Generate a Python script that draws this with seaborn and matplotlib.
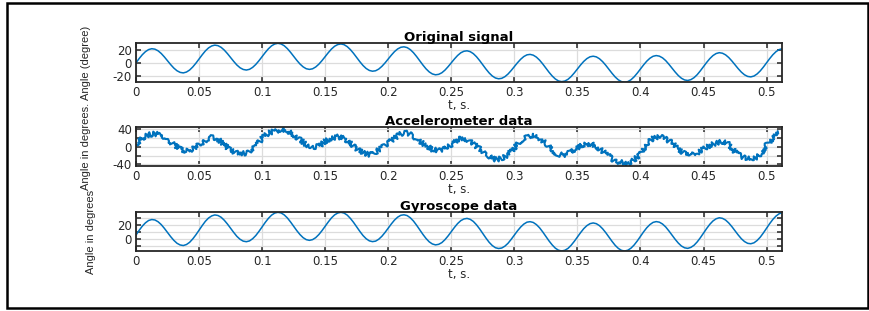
import numpy as np
import matplotlib
matplotlib.use("Agg")
import matplotlib.pyplot as plt
from matplotlib.patches import Rectangle
import seaborn as sns

# sample interval of the plotted signals (s)
dt_fine = 0.0025
dt_acc = 0.005

original = [
    0, 6.5, 12.4, 17.1, 20.3, 21.6, 20.9, 18.4, 14.3, 9.0,
    3.1, -2.8, -8.1, -12.2, -14.7, -15.5, -14.2, -11.1, -6.4, -0.6,
    5.9, 12.3, 18.2, 22.8, 25.8, 27.1, 26.3, 23.7, 19.5, 14.1,
    8.1, 2.1, -3.4, -7.6, -10.2, -11.1, -10.0, -7.0, -2.5, 3.2,
    9.5, 15.8, 21.5, 26.0, 28.8, 29.9, 28.9, 26.2, 21.8, 16.2,
    10.0, 3.8, -1.8, -6.2, -9.1, -10.1, -9.2, -6.4, -2.1, 3.4,
    9.5, 15.6, 21.1, 25.4, 28.0, 28.9, 27.8, 24.8, 20.2, 14.5,
    8.1, 1.7, -4.1, -8.7, -11.7, -12.9, -12.2, -9.6, -5.4, -0.1,
    5.9, 11.8, 17.2, 21.3, 23.8, 24.5, 23.3, 20.2, 15.5, 9.6,
    3.1, -3.4, -9.3, -14.0, -17.1, -18.4, -17.7, -15.3, -11.2, -5.9,
    0, 5.9, 11.2, 15.3, 17.7, 18.4, 17.1, 14.0, 9.3, 3.4,
    -3.1, -9.6, -15.5, -20.2, -23.3, -24.5, -23.8, -21.3, -17.2, -11.8,
    -5.9, 0.1, 5.4, 9.6, 12.2, 12.9, 11.7, 8.7, 4.1, -1.7,
    -8.1, -14.5, -20.2, -24.8, -27.8, -28.9, -28.0, -25.4, -21.1, -15.6,
    -9.5, -3.4, 2.1, 6.4, 9.2, 10.1, 9.1, 6.2, 1.8, -3.8,
    -10.0, -16.2, -21.8, -26.2, -28.9, -29.9, -28.8, -26.0, -21.5, -15.8,
    -9.5, -3.2, 2.5, 7.0, 10.0, 11.1, 10.2, 7.6, 3.4, -2.1,
    -8.1, -14.1, -19.5, -23.7, -26.3, -27.1, -25.8, -22.8, -18.2, -12.3,
    -5.9, 0.6, 6.4, 11.1, 14.2, 15.5, 14.7, 12.2, 8.1, 2.8,
    -3.1, -9.0, -14.3, -18.4, -20.9, -21.6, -20.3, -17.1, -12.4, -6.5,
    0, 6.5, 12.4, 17.1, 20.3, 21.6,
]

accel = [
    5, 20, 28, 30, 28, 17, 5, -5, -10, -5,
    5, 15, 23, 18, 5, -8, -14, -15, -12, 1,
    20, 32, 36, 40, 36, 28, 17, 5, 0, 1,
    13, 20, 23, 20, 8, -5, -14, -18, -12, -2,
    9, 20, 30, 32, 24, 13, 3, -6, -8, -5,
    5, 17, 20, 13, 1, -10, -21, -29, -27, -18,
    -2, 13, 23, 28, 20, 8, -8, -18, -18, -12,
    -2, 5, 8, 1, -10, -21, -33, -35, -39, -30,
    -16, 8, 20, 24, 18, 9, -5, -15, -19, -14,
    -5, 3, 9, 12, 6, -12, -22, -26, -27, -18,
    5, 20, 32,
]

gyro = [
    5.5, 12.1, 18.0, 22.7, 26.0, 27.3, 26.7, 24.2, 20.2, 14.9,
    9.1, 3.2, -2.0, -6.1, -8.5, -9.3, -7.9, -4.8, 0.0, 5.8,
    12.4, 18.8, 24.8, 29.4, 32.4, 33.8, 33.0, 30.5, 26.3, 21.0,
    15.0, 9.1, 3.6, -0.5, -3.1, -3.9, -2.8, 0.3, 4.8, 10.6,
    16.9, 23.3, 29.0, 33.5, 36.4, 37.5, 36.6, 33.9, 29.6, 24.0,
    17.9, 11.7, 6.2, 1.8, -1.0, -2.0, -1.0, 1.8, 6.2, 11.7,
    17.9, 24.0, 29.6, 33.9, 36.5, 37.5, 36.4, 33.5, 28.9, 23.3,
    16.9, 10.6, 4.8, 0.3, -2.7, -3.8, -3.1, -0.4, 3.8, 9.2,
    15.2, 21.2, 26.6, 30.7, 33.3, 34.0, 32.9, 29.8, 25.2, 19.3,
    12.9, 6.4, 0.6, -4.1, -7.1, -8.4, -7.6, -5.2, -1.0, 4.3,
    10.3, 16.2, 21.6, 25.7, 28.1, 28.9, 27.6, 24.6, 19.9, 14.1,
    7.6, 1.2, -4.7, -9.3, -12.4, -13.5, -12.8, -10.2, -6.1, -0.6,
    5.3, 11.4, 16.7, 20.9, 23.6, 24.3, 23.2, 20.2, 15.7, 9.9,
    3.6, -2.8, -8.4, -13.0, -15.9, -17.0, -16.0, -13.4, -9.0, -3.5,
    2.7, 8.8, 14.4, 18.7, 21.5, 22.5, 21.5, 18.7, 14.3, 8.8,
    2.6, -3.5, -9.1, -13.4, -16.1, -17.0, -15.9, -13.0, -8.5, -2.8,
    3.6, 10.0, 15.7, 20.2, 23.3, 24.4, 23.6, 21.0, 16.9, 11.4,
    5.5, -0.5, -5.8, -10.0, -12.5, -13.3, -11.9, -8.9, -4.2, 1.7,
    8.2, 14.7, 20.6, 25.3, 28.4, 29.8, 29.0, 26.6, 22.5, 17.3,
    11.4, 5.6, 0.3, -3.7, -6.2, -6.8, -5.5, -2.2, 2.5, 8.5,
    15.0, 21.6, 27.5, 32.2, 35.5, 36.8,
]

titles = ["Original signal", "Accelerometer data", "Gyroscope data"]
ylabels = ["Angle (degree)", "Angle in degrees.", "Angle in degrees"]
xlabel = "t, s."

x_ticks = [0, 0.05, 0.1, 0.15, 0.2, 0.25, 0.3, 0.35, 0.4, 0.45, 0.5]
x_ticklabels = ["0", "0.05", "0.1", "0.15", "0.2", "0.25", "0.3", "0.35", "0.4", "0.45", "0.5"]
y_ticks = [[-20, 0, 20], [-40, -20, 0, 20, 40], [-10, 0, 10, 20, 30]]
y_ticklabels = [["-20", "0", "20"], ["-40", "", "0", "", "40"], ["", "0", "", "20", ""]]
x_max = 0.512

sns.set_style("ticks")
plt.rcParams["font.family"] = ["DejaVu Sans"]
plt.rcParams["axes.unicode_minus"] = False

BLUE = "#0072BD"
DARK = "#262626"

fig = plt.figure(figsize=(8.7, 3.11), dpi=100)
fig.patches.append(Rectangle((7 / 870, 3 / 311), (868 - 7) / 870, (308 - 3) / 311,
                             transform=fig.transFigure, fill=False, ec="black", lw=1.8))

left, width = 136 / 870, 645.7 / 870
tops = [43.3, 127.3, 212.3]
bottoms = [82.3, 166.0, 251.0]
label_x = [-0.07, -0.07, -0.062]

series = [
    (np.arange(len(original)) * dt_fine, original),
    (np.arange(len(accel)) * dt_acc, accel),
    (np.arange(len(gyro)) * dt_fine, gyro),
]
ylims = [(-29.9, 29.9), (-44, 45), (-17.0, 37.5)]

for i, (t, vals) in enumerate(series):
    ax = fig.add_axes([left, 1 - bottoms[i] / 311, width, (bottoms[i] - tops[i]) / 311])
    if i == 1:
        sns.lineplot(x=t, y=vals, ax=ax, color=BLUE, linewidth=1.5, estimator=None)
        # noisy sensor look
        ax.lines[-1].set_sketch_params(scale=2.4, length=1.2, randomness=6)
    else:
        sns.lineplot(x=t, y=vals, ax=ax, color=BLUE, linewidth=1.1, estimator=None)

    ax.set_xlim(0, x_max)
    ax.set_ylim(*ylims[i])
    ax.set_xticks(x_ticks)
    ax.set_xticklabels(x_ticklabels)
    ax.set_yticks(y_ticks[i])
    ax.set_yticklabels(y_ticklabels[i])
    ax.grid(True, color="#dcdcdc", lw=0.9)
    ax.set_axisbelow(True)
    ax.tick_params(direction="in", length=3.5, width=1.1, top=True, right=True,
                   colors=DARK, labelsize=8.5, pad=3)
    for sp in ax.spines.values():
        sp.set_visible(True)
        sp.set_color(DARK)
        sp.set_linewidth(1.3)

    ax.set_title(titles[i], fontsize=9.5, fontweight="bold", pad=1.5, color="black")
    ax.set_xlabel(xlabel, fontsize=8.5, color=DARK, labelpad=0)
    ax.set_ylabel(ylabels[i], fontsize=8, family=["Liberation Sans", "DejaVu Sans"], color=DARK)
    ax.yaxis.set_label_coords(label_x[i], 0.5)

fig.savefig("out.png", dpi=100)
